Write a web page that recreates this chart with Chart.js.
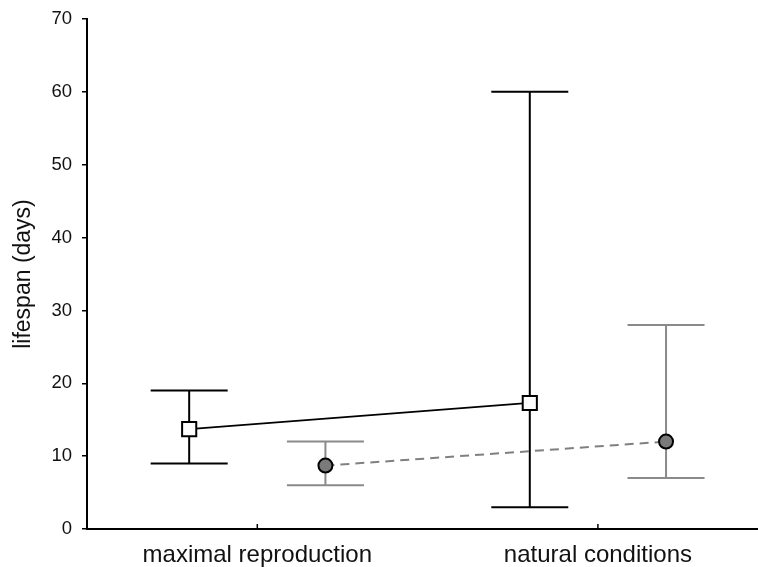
<!DOCTYPE html>
<html lang="en">
<head>
    <meta charset="UTF-8">
    <title>Lifespan</title>
    <script src="https://cdn.jsdelivr.net/npm/chart.js"></script>
    <style>
        body {
            margin: 0;
            padding: 0;
            background-color: #fff;
        }

        #wrap {
            width: 758px;
            height: 567px;
        }
    </style>
</head>
<body>
    <div id="wrap">
        <canvas id="chart"></canvas>
    </div>

    <script>
        const categories = ['maximal reproduction', 'natural conditions'];
        const yTicks = [0, 10, 20, 30, 40, 50, 60, 70];

        // open squares, solid line
        const maxRepMeans = [13.7, 17.3];
        const maxRepLow = [9, 3];
        const maxRepHigh = [19, 60];

        // grey circles, dashed line
        const naturalMeans = [8.7, 12.0];
        const naturalLow = [6, 7];
        const naturalHigh = [12, 28];

        const seriesOffset = 0.2;
        const capHalf = 38.5;

        const toPoints = (means, shift) => means.map((v, i) => ({ x: i + 1 + shift, y: v }));

        const errorBars = {
            id: 'errorBars',
            beforeDatasetsDraw(chart) {
                const { ctx, scales: { x, y } } = chart;
                const groups = [
                    { low: maxRepLow, high: maxRepHigh, shift: -seriesOffset, color: '#000' },
                    { low: naturalLow, high: naturalHigh, shift: seriesOffset, color: '#8a8a8a' }
                ];
                ctx.save();
                ctx.lineWidth = 2;
                groups.forEach(g => {
                    ctx.strokeStyle = g.color;
                    g.low.forEach((lo, i) => {
                        const px = x.getPixelForValue(i + 1 + g.shift);
                        const pLo = y.getPixelForValue(lo);
                        const pHi = y.getPixelForValue(g.high[i]);
                        ctx.beginPath();
                        ctx.moveTo(px, pLo);
                        ctx.lineTo(px, pHi);
                        ctx.moveTo(px - capHalf, pLo);
                        ctx.lineTo(px + capHalf, pLo);
                        ctx.moveTo(px - capHalf, pHi);
                        ctx.lineTo(px + capHalf, pHi);
                        ctx.stroke();
                    });
                });
                // category tick marks pointing up into the plot
                ctx.strokeStyle = '#000';
                ctx.lineWidth = 1.5;
                const base = y.getPixelForValue(0);
                categories.forEach((c, i) => {
                    const px = x.getPixelForValue(i + 1);
                    ctx.beginPath();
                    ctx.moveTo(px, base);
                    ctx.lineTo(px, base - 5);
                    ctx.stroke();
                });
                ctx.restore();
            }
        };

        new Chart(document.getElementById('chart'), {
            type: 'line',
            data: {
                datasets: [
                    {
                        data: toPoints(maxRepMeans, -seriesOffset),
                        borderColor: '#000',
                        borderWidth: 1.8,
                        pointStyle: 'rect',
                        pointRadius: 10,
                        pointBackgroundColor: '#fff',
                        pointBorderColor: '#000',
                        pointBorderWidth: 2,
                        tension: 0
                    },
                    {
                        data: toPoints(naturalMeans, seriesOffset),
                        borderColor: '#808080',
                        borderWidth: 2,
                        borderDash: [9, 6],
                        pointStyle: 'circle',
                        pointRadius: 7,
                        pointBackgroundColor: '#7a7a7a',
                        pointBorderColor: '#000',
                        pointBorderWidth: 2,
                        tension: 0
                    }
                ]
            },
            options: {
                responsive: true,
                maintainAspectRatio: false,
                animation: false,
                layout: { autoPadding: false, padding: { top: 19, right: 0, left: 0, bottom: 0 } },
                plugins: {
                    legend: { display: false },
                    tooltip: { enabled: false }
                },
                scales: {
                    x: {
                        type: 'linear',
                        min: 0.5,
                        max: 2.47,
                        afterBuildTicks: (scale) => {
                            scale.ticks = categories.map((c, i) => ({ value: i + 1 }));
                        },
                        afterFit: (scale) => {
                            scale.height = 38;
                            scale.paddingLeft = 0;
                            scale.paddingRight = 0;
                        },
                        grid: { display: false, drawTicks: false },
                        border: { display: true, color: '#000', width: 2 },
                        ticks: {
                            color: '#111',
                            padding: 12,
                            maxRotation: 0,
                            autoSkip: false,
                            font: { family: 'Liberation Sans', size: 24 },
                            callback: (v) => categories[Math.round(v) - 1] || ''
                        }
                    },
                    y: {
                        min: 0,
                        max: 70,
                        afterBuildTicks: (scale) => {
                            scale.ticks = yTicks.map(v => ({ value: v }));
                        },
                        afterFit: (scale) => {
                            scale.width = 87;
                            scale.paddingTop = 0;
                            scale.paddingBottom = 0;
                        },
                        grid: { drawOnChartArea: false, drawTicks: true, tickLength: 5, color: '#000', lineWidth: 1.5 },
                        border: { display: true, color: '#000', width: 2 },
                        title: {
                            display: true,
                            text: 'lifespan (days)',
                            color: '#111',
                            padding: { top: 10, bottom: 0 },
                            font: { family: 'Liberation Sans', size: 23 }
                        },
                        ticks: {
                            color: '#111',
                            padding: 10,
                            font: { family: 'Liberation Sans', size: 18.5 }
                        }
                    }
                }
            },
            plugins: [errorBars]
        });
    </script>
</body>
</html>
